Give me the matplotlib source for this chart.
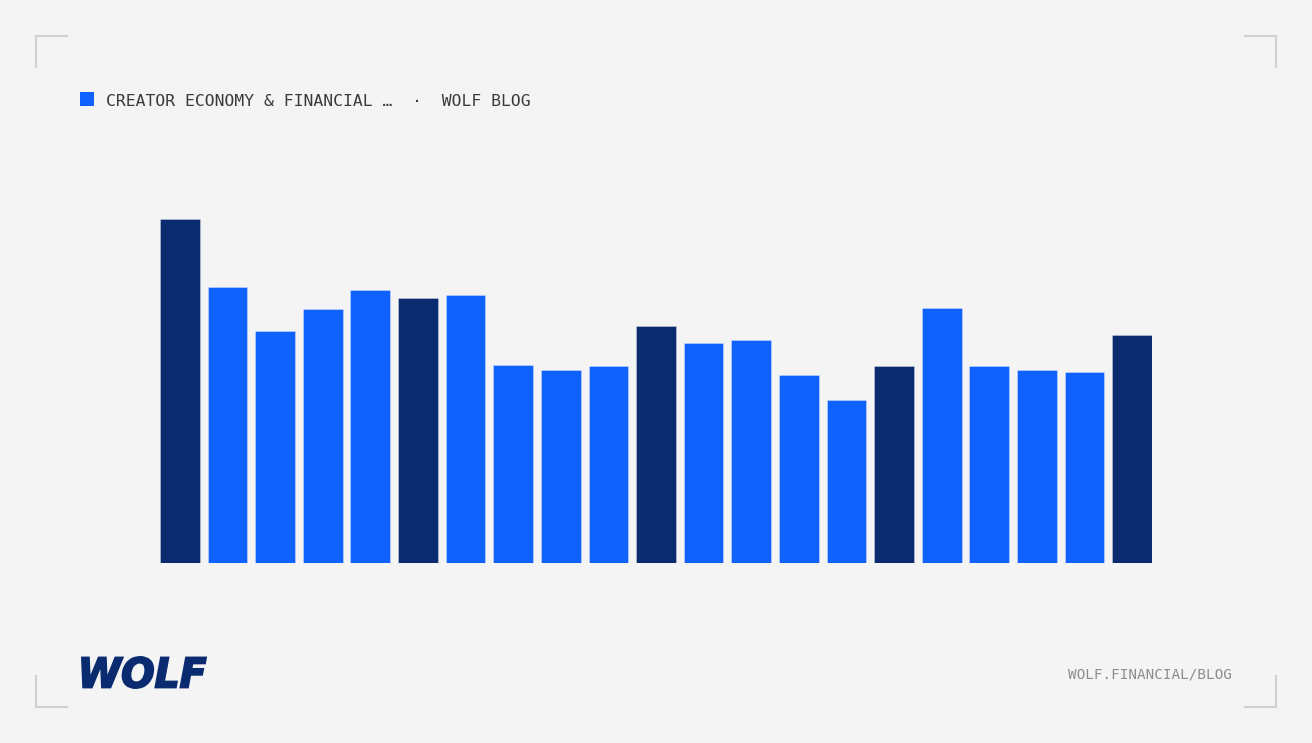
import matplotlib
matplotlib.use("Agg")
import matplotlib.pyplot as plt
from matplotlib.textpath import TextPath
from matplotlib.font_manager import FontProperties
from matplotlib.patches import PathPatch
from matplotlib.transforms import Affine2D

# bar values
values = [344, 276, 232, 254, 273, 265, 268, 198, 193, 197, 237,
          220, 223, 188, 163, 197, 255, 197, 193, 191, 228]
highlight = [0, 5, 10, 15, 20]

title = "CREATOR ECONOMY & FINANCIAL \u2026  \u00b7  WOLF BLOG"
footer = "WOLF.FINANCIAL/BLOG"

BG = "#f4f4f4"
BLUE = "#0f62fe"
NAVY = "#0a2b70"
W, H = 1312, 743

fig = plt.figure(figsize=(W / 100, H / 100), dpi=100, facecolor=BG)

# bar axes: bars from x=160 to 1152, baseline at y=563
bw = 0.834
ax = fig.add_axes([160 / W, (H - 563) / H, 992 / W, 363 / H])
ax.set_facecolor("none")
colors = [NAVY if i in highlight else BLUE for i in range(len(values))]
ax.bar(range(len(values)), values, width=bw, color=colors,
       edgecolor=(1, 1, 1, 0.3), linewidth=0.7)
ax.set_xlim(-bw / 2, len(values) - 1 + bw / 2)
ax.set_ylim(0, 363)
ax.axis("off")

# overlay in pixel coords for the frame bits
ov = fig.add_axes([0, 0, 1, 1])
ov.set_facecolor("none")
ov.set_xlim(0, W)
ov.set_ylim(H, 0)
ov.axis("off")

# corner marks
cc = "#d0d0d0"
arm = 32
for x, y, dx, dy in [(36, 36, 1, 1), (1276, 36, -1, 1),
                     (36, 707, 1, -1), (1276, 707, -1, -1)]:
    ov.plot([x + dx * arm, x, x], [y, y, y + dy * arm], color=cc,
            lw=1.5, solid_capstyle="butt", solid_joinstyle="miter")

# header
ov.add_patch(plt.Rectangle((80, 92), 14, 14, color=BLUE, lw=0))
ov.text(106, 106, title, family="DejaVu Sans Mono", fontsize=11.8,
        color="#3a3a3a", va="baseline", ha="left")

# footer
ov.text(1232, 679, footer, family="DejaVu Sans Mono", fontsize=10.3,
        color="#8d8d8d", va="baseline", ha="right")

# logo (heavy italic wordmark)
tp = TextPath((0, 0), "WOLF", prop=FontProperties(family="DejaVu Sans",
                                                  weight="bold", style="italic"))
bb = tp.get_extents()
tr = Affine2D().translate(-bb.x0, -bb.y0).scale(124 / bb.width, -31 / bb.height).translate(82, 688)
ov.add_patch(PathPatch(tr.transform_path(tp), facecolor=NAVY, edgecolor=NAVY,
                       lw=1.4, joinstyle="miter"))

fig.savefig("out.png", dpi=100, facecolor=BG)
